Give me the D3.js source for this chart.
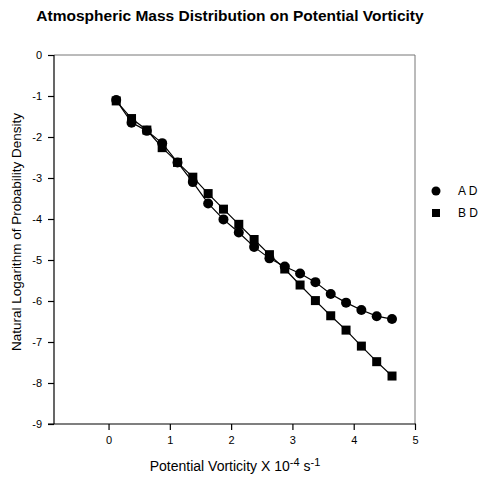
<!DOCTYPE html>
<html>
<head>
    <meta charset="utf-8">
    <style>
        body { margin: 0; background: #fff; }
        svg { display: block; font-family: "Liberation Sans", Arial, sans-serif; }
        .tick text { font-size: 11px; fill: #000; }
    </style>
</head>
<body>
    <svg width="480" height="479"></svg>

<script src="https://d3js.org/d3.v7.min.js"></script>
<script>
    // potential vorticity (x 10^-4 s^-1)
    let pv = [0.125, 0.375, 0.625, 0.875, 1.125, 1.375, 1.625, 1.875, 2.125, 2.375,
              2.625, 2.875, 3.125, 3.375, 3.625, 3.875, 4.125, 4.375, 4.625]
    let seriesAD = [-1.10, -1.65, -1.85, -2.15, -2.62, -3.10, -3.62, -4.01, -4.33, -4.68,
                    -4.96, -5.16, -5.33, -5.54, -5.83, -6.04, -6.22, -6.37, -6.44]
    let seriesBD = [-1.12, -1.55, -1.83, -2.26, -2.62, -2.98, -3.38, -3.76, -4.13, -4.50,
                    -4.87, -5.22, -5.61, -5.99, -6.36, -6.71, -7.10, -7.48, -7.83]
    let xTicks = [0, 1, 2, 3, 4, 5]
    let yTicks = [0, -1, -2, -3, -4, -5, -6, -7, -8, -9]
    let legendNames = ["A D", "B D"]

    let svg = d3.select("svg")

    let mLeft = 54, mRight = 415, mTop = 55, mBottom = 424

    let x = d3.scaleLinear().domain([-0.89, 5]).range([mLeft, mRight])
    let y = d3.scaleLinear().domain([0, -9]).range([mTop, mBottom])

    // title
    svg.append("text")
        .attr("x", 230)
        .attr("y", 21)
        .attr("text-anchor", "middle")
        .style("font-size", "15.5px")
        .style("font-weight", "bold")
        .text("Atmospheric Mass Distribution on Potential Vorticity")

    // gray frame top + right
    svg.append("line")
        .attr("x1", mLeft).attr("x2", mRight)
        .attr("y1", mTop).attr("y2", mTop)
        .style("stroke", "#777").style("stroke-width", 1)
    svg.append("line")
        .attr("x1", mRight).attr("x2", mRight)
        .attr("y1", mTop).attr("y2", mBottom)
        .style("stroke", "#777").style("stroke-width", 1)

    // axes
    let xAxis = svg.append("g")
        .attr("transform", `translate(0,${mBottom})`)
        .call(d3.axisBottom(x).tickValues(xTicks).tickSize(6).tickPadding(6).tickFormat(d3.format("d")))
    let yAxis = svg.append("g")
        .attr("transform", `translate(${mLeft},0)`)
        .call(d3.axisLeft(y).tickValues(yTicks).tickSize(6).tickPadding(6).tickFormat(d3.format("d")))

    // full-length bottom line from the y axis to the right edge
    xAxis.select(".domain").attr("d", `M${mLeft - 6},0H${mRight + 1}`)
    yAxis.select(".domain").attr("d", `M0,${mTop}V${mBottom}`)
    svg.selectAll(".domain, .tick line").style("stroke", "#000").style("stroke-width", 1.2)
    // y tick labels use plain hyphen like the original
    yAxis.selectAll(".tick text").text(d => d3.format("d")(d).replace("−", "-"))

    // axis titles
    let xl = svg.append("text")
        .attr("x", 235)
        .attr("y", 471)
        .attr("text-anchor", "middle")
        .style("font-size", "14px")
    xl.append("tspan").text("Potential Vorticity X 10")
    xl.append("tspan").attr("dy", -5).style("font-size", "11px").text("-4")
    xl.append("tspan").attr("dy", 5).text(" s")
    xl.append("tspan").attr("dy", -5).style("font-size", "11px").text("-1")

    svg.append("text")
        .attr("transform", `translate(21,232) rotate(-90)`)
        .attr("text-anchor", "middle")
        .style("font-size", "13.5px")
        .text("Natural Logarithm of Probability Density")

    let line = d3.line()
        .x((d, i) => x(pv[i]))
        .y(d => y(d))

    // BD (squares)
    svg.append("path")
        .attr("d", line(seriesBD))
        .style("fill", "none").style("stroke", "#000").style("stroke-width", 1.2)
    svg.append("g")
        .selectAll("rect")
        .data(seriesBD)
        .join("rect")
        .attr("x", (d, i) => x(pv[i]) - 4.5)
        .attr("y", d => y(d) - 4.5)
        .attr("width", 9)
        .attr("height", 9)
        .style("fill", "#000")

    // AD (circles)
    svg.append("path")
        .attr("d", line(seriesAD))
        .style("fill", "none").style("stroke", "#000").style("stroke-width", 1.2)
    svg.append("g")
        .selectAll("circle")
        .data(seriesAD)
        .join("circle")
        .attr("cx", (d, i) => x(pv[i]))
        .attr("cy", d => y(d))
        .attr("r", 5)
        .style("fill", "#000")

    // legend
    let legend = svg.append("g")
    legend.append("circle")
        .attr("cx", 436).attr("cy", 191).attr("r", 4.5).style("fill", "#000")
    legend.append("rect")
        .attr("x", 432).attr("y", 209).attr("width", 8).attr("height", 8).style("fill", "#000")
    legend.selectAll("text")
        .data(legendNames)
        .join("text")
        .attr("x", 458)
        .attr("y", (d, i) => 195 + i * 22)
        .style("font-size", "12px")
        .text(d => d)
</script>
</body>
</html>
